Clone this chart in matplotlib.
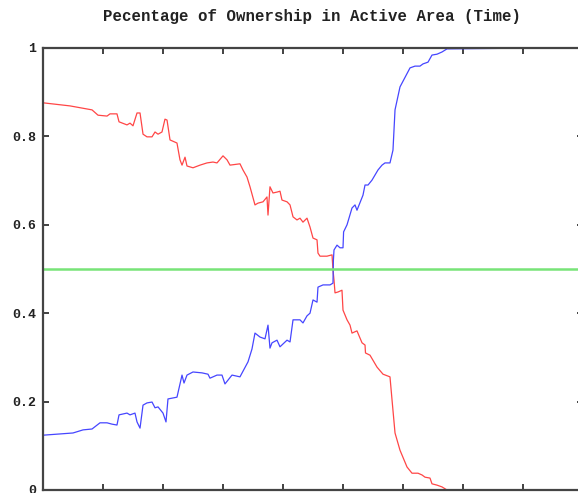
import matplotlib
matplotlib.use("Agg")
import matplotlib.pyplot as plt
import numpy as np

# ownership share over time (red = player A, blue = player B)
red_t = [0, 45, 81.7, 91.7, 106.7, 111.7, 123.3, 126.7, 140, 145, 150, 156.7, 161.7,
         166.7, 173.3, 181.7, 186.7, 191.7, 198.3, 203.3, 206.7, 211.7, 223.3, 228.3,
         231.7, 236.7, 240, 250, 261.7, 273.3, 283.3, 290, 300, 306.7, 311.7, 328.3,
         333.3, 340, 345, 353.3, 358.3, 366.7, 373.3, 375, 378.3, 383.3, 390, 395,
         398.3, 406.7, 411.7, 416.7, 423.3, 428.3, 433.3, 440, 445, 450, 456.7, 458.3,
         461.7, 473.3, 481.7, 483.3, 485, 486.7, 491.7, 498.3, 500, 506.7, 511.7, 515,
         523.3, 531.7, 536.7, 537.5, 545, 556.7, 566.7, 578.3, 581.7, 586.7, 595,
         606.7, 615, 625, 631.7, 636.7, 645, 648.3, 656.7, 665, 673.3, 830]
red_v = [0.876, 0.869, 0.860, 0.848, 0.846, 0.851, 0.851, 0.833, 0.826, 0.830, 0.824,
         0.853, 0.853, 0.805, 0.799, 0.799, 0.810, 0.805, 0.810, 0.839, 0.837, 0.792,
         0.785, 0.747, 0.735, 0.753, 0.733, 0.729, 0.735, 0.740, 0.742, 0.740, 0.756,
         0.747, 0.735, 0.738, 0.724, 0.708, 0.686, 0.645, 0.649, 0.652, 0.663, 0.622,
         0.686, 0.672, 0.674, 0.676, 0.656, 0.652, 0.645, 0.618, 0.611, 0.615, 0.606,
         0.615, 0.595, 0.570, 0.566, 0.536, 0.529, 0.529, 0.532, 0.498, 0.475, 0.446,
         0.448, 0.452, 0.407, 0.385, 0.373, 0.355, 0.360, 0.333, 0.328, 0.310, 0.305,
         0.278, 0.262, 0.256, 0.204, 0.129, 0.090, 0.052, 0.038, 0.038, 0.034, 0.029,
         0.027, 0.014, 0.011, 0.007, 0.0, 0.0]

blue_t = [0, 50, 66.7, 81.7, 95, 106.7, 115, 123.3, 126.7, 140, 145, 153.3, 156.7,
          161.7, 166.7, 173.3, 181.7, 186.7, 191.7, 200, 205, 208.3, 223.3, 231.7, 235,
          240, 250, 265, 275, 278.3, 290, 298.3, 303.3, 315, 328.3, 341.7, 348.3, 353.3,
          361.7, 370, 375, 378.3, 381.7, 390, 395, 406.7, 411.7, 416.7, 428.3, 433.3,
          440, 445, 450, 456.7, 458.3, 466.7, 478.3, 483.3, 484, 485, 490, 495, 500,
          501, 506.7, 515, 520, 523.3, 533.3, 536.7, 541.7, 548.3, 558.3, 565, 570,
          578.3, 583.3, 586.7, 595, 611.7, 620, 628.3, 633.3, 641.7, 648.3, 656.7, 665,
          673.3, 830]
blue_v = [0.124, 0.129, 0.136, 0.138, 0.152, 0.152, 0.149, 0.147, 0.170, 0.174, 0.170,
          0.174, 0.154, 0.140, 0.192, 0.197, 0.199, 0.186, 0.188, 0.174, 0.154, 0.206,
          0.210, 0.260, 0.242, 0.260, 0.267, 0.265, 0.262, 0.253, 0.260, 0.260, 0.240,
          0.260, 0.256, 0.290, 0.319, 0.355, 0.346, 0.342, 0.373, 0.321, 0.333, 0.339,
          0.324, 0.339, 0.335, 0.385, 0.385, 0.378, 0.394, 0.400, 0.430, 0.425, 0.459,
          0.464, 0.464, 0.468, 0.520, 0.543, 0.554, 0.548, 0.548, 0.584, 0.600, 0.638,
          0.645, 0.633, 0.667, 0.690, 0.690, 0.701, 0.724, 0.735, 0.740, 0.740, 0.769,
          0.860, 0.912, 0.955, 0.959, 0.959, 0.964, 0.968, 0.984, 0.986, 0.991, 0.998,
          1.0]

half = 0.5
xticks = np.arange(0, 901, 100)
yticks = [0, 0.2, 0.4, 0.6, 0.8, 1]
ylabels = ["0", "0.2", "0.4", "0.6", "0.8", "1"]

mono = "Liberation Mono"

fig = plt.figure(figsize=(5.78, 4.93), dpi=100)
ax = fig.add_axes([43 / 578, 3 / 493, 540 / 578, 442 / 493])

ax.plot(red_t, red_v, color="#ff4646", lw=0.9)
ax.plot(blue_t, blue_v, color="#4646ff", lw=0.9)
ax.axhline(half, color="#78e478", lw=1.8)

ax.set_xlim(0, 900)
ax.set_ylim(0, 1)
ax.set_xticks(xticks)
ax.set_yticks(yticks)
ax.set_yticklabels(ylabels, family=mono, fontweight="bold", fontsize=9.5,
                   color="#222222")
ax.tick_params(direction="in", length=4, width=1.3, color="#333333",
               top=True, right=True, labelbottom=False, pad=5)
for s in ax.spines.values():
    s.set_color("#444444")
    s.set_linewidth(1.6)

fig.text(312 / 578, 1 - 17 / 493, "Pecentage of Ownership in Active Area (Time)",
         family=mono, fontweight="bold", fontsize=11.3, ha="center", va="center",
         color="#222222")

fig.savefig("out.png", dpi=100)
